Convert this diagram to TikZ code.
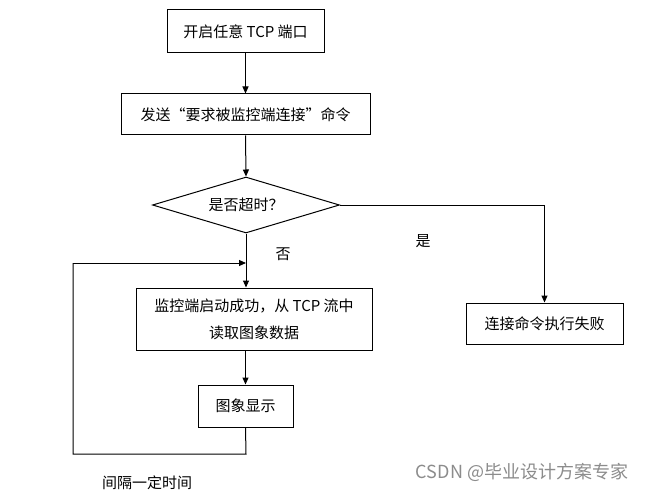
\documentclass[tikz,border=0pt]{standalone}
\usepackage{fontspec}
\setmainfont{Noto Sans CJK SC}
\newfontfamily\cjk{Noto Sans CJK SC}
\usetikzlibrary{shapes.geometric,arrows.meta}
\definecolor{wmgray}{RGB}{140,140,140}
\begin{document}
\begin{tikzpicture}[x=1pt,y=-1pt,
  box/.style={draw=black,line width=1pt,rectangle,inner sep=0pt,font=\cjk\fontsize{15}{27}\selectfont,align=center},
  dia/.style={draw=black,line width=1pt,diamond,inner sep=0pt,aspect=3.34,minimum width=187pt,minimum height=56pt,font=\cjk\fontsize{15}{17}\selectfont},
  conn/.style={draw=black,line width=1pt,-{Triangle[length=7pt,width=6pt]}},
  line/.style={draw=black,line width=1pt},
  lab/.style={font=\cjk\fontsize{15}{17}\selectfont,inner sep=0pt}]
\useasboundingbox (0,0) rectangle (653,492);
\fill[white] (0,0) rectangle (653,492);
\node[box,minimum width=157pt,minimum height=43pt] (b1) at (245.5,31.5) {开启任意 TCP 端口};
\node[box,minimum width=249pt,minimum height=41pt] (b2) at (245.5,114.5) {发送“要求被监控端连接”命令};
\node[dia] (d) at (246,205) {是否超时？};
\node[box,minimum width=236pt,minimum height=62pt] (b3) at (254,319) {监控端启动成功，从 TCP 流中\\读取图象数据};
\node[box,minimum width=95pt,minimum height=42pt] (b4) at (245.5,406) {图象显示};
\node[box,minimum width=157pt,minimum height=41pt] (b5) at (544.5,323.5) {连接命令执行失败};
\coordinate (fb1) at (246,454);
\coordinate (fb2) at (73,454);
\coordinate (fb3) at (73,263);
\coordinate (fb4) at (246,263);
\draw[conn] (b1.south) -- (b2.north);
\draw[conn] (b2.south) -- (d.north);
\draw[conn] (d.south) -- (d.south |- b3.north);
\draw[conn] (d.east) -| (b5.north);
\draw[conn] (b3.south -| b4.north) -- (b4.north);
\draw[line] (b4.south) -- (fb1) -- (fb2) -- (fb3);
\draw[conn] (fb3) -- (fb4);
\node[lab] (yes) at (423,241) {是};
\node[lab] (no) at (283,254) {否};
\node[lab] (gap) at (147,483) {间隔一定时间};
\node[font=\cjk\fontsize{18}{20}\selectfont,text=wmgray,inner sep=0pt] (wm) at (522,472) {CSDN @毕业设计方案专家};
\end{tikzpicture}
\end{document}
